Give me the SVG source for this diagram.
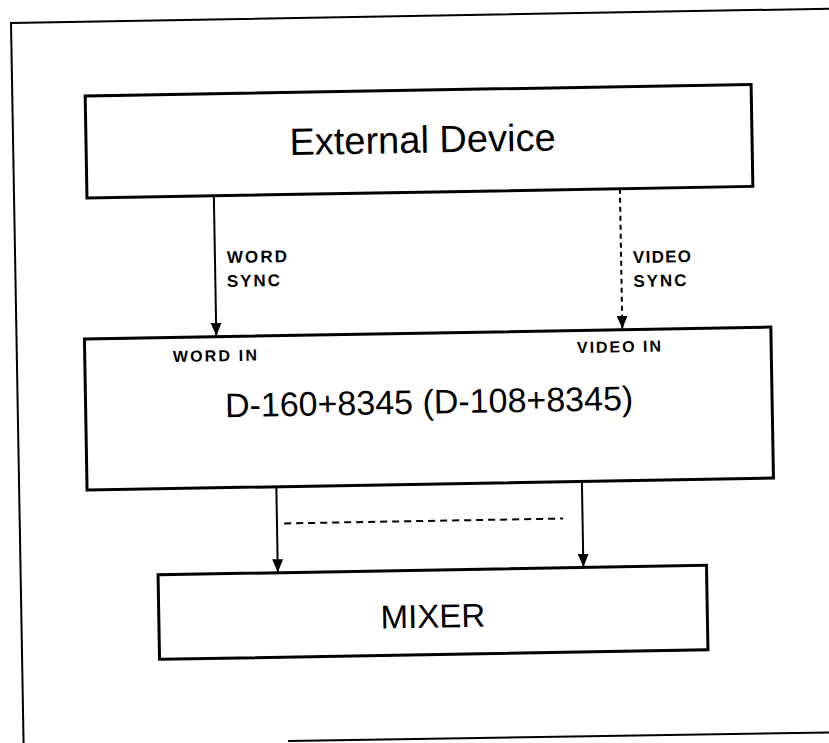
<svg xmlns="http://www.w3.org/2000/svg" width="829" height="743" viewBox="0 0 829 743">
<style>
.frame{fill:none;stroke:#000;stroke-width:2}
.box{fill:none;stroke:#000;stroke-width:3}
.conn{fill:none;stroke:#000;stroke-width:2}
.dash{stroke-dasharray:5 4}
.hdash{stroke-dasharray:7 5}
text{font-family:"Liberation Sans",Arial,Helvetica,sans-serif;fill:#000}
.big{font-size:38px}
.mid{font-size:34px}
.lbl{font-size:17px;font-weight:bold}
.port{font-size:16px;font-weight:bold}
</style>
<defs>
<marker id="ah" markerUnits="userSpaceOnUse" markerWidth="14" markerHeight="12" refX="13" refY="5.5" orient="auto">
<path d="M0,0 L13,5.5 L0,11 z" fill="#000" stroke="none"/>
</marker>
</defs>
<rect width="829" height="743" fill="#fff"/>
<g transform="rotate(-1)">
<g id="frame">
<path class="frame" d="M10.6,780 L10.6,23.2 L860,23.2"/>
<path class="frame" d="M275,746 L860,747"/>
</g>
<g id="external-device">
<rect class="box" x="83.5" y="97.5" width="666" height="102"/>
<text class="big" x="420" y="160" text-anchor="middle">External Device</text>
</g>
<g id="d160">
<rect class="box" x="78.5" y="340.5" width="686.5" height="151"/>
<text class="port" x="166.7" y="365" textLength="84" lengthAdjust="spacing">WORD IN</text>
<text class="port" x="570.8" y="363" textLength="84" lengthAdjust="spacing">VIDEO IN</text>
<text class="mid" x="422" y="421" text-anchor="middle">D-160+8345 (D-108+8345)</text>
</g>
<g id="mixer">
<rect class="box" x="148" y="577.5" width="548.5" height="84.5"/>
<text class="mid" x="422" y="635" text-anchor="middle" style="font-size:33px">MIXER</text>
</g>
<g id="connectors">
<line class="conn" x1="210.4" y1="199.5" x2="210.4" y2="339.5" marker-end="url(#ah)"/>
<line class="conn dash" x1="616.5" y1="199.5" x2="616.5" y2="339.5" marker-end="url(#ah)"/>
<line class="conn" x1="267.8" y1="491.5" x2="267.8" y2="577" marker-end="url(#ah)"/>
<line class="conn" x1="573.4" y1="491.5" x2="573.4" y2="577" marker-end="url(#ah)"/>
<line class="conn hdash" x1="275" y1="528.3" x2="554" y2="528.3"/>
<text class="lbl" x="222.4" y="267" textLength="60" lengthAdjust="spacing">WORD</text>
<text class="lbl" x="222" y="291" textLength="53" lengthAdjust="spacing">SYNC</text>
<text class="lbl" x="628.4" y="274" textLength="58" lengthAdjust="spacing">VIDEO</text>
<text class="lbl" x="628.4" y="298" textLength="53" lengthAdjust="spacing">SYNC</text>
</g>
</g>
</svg>
